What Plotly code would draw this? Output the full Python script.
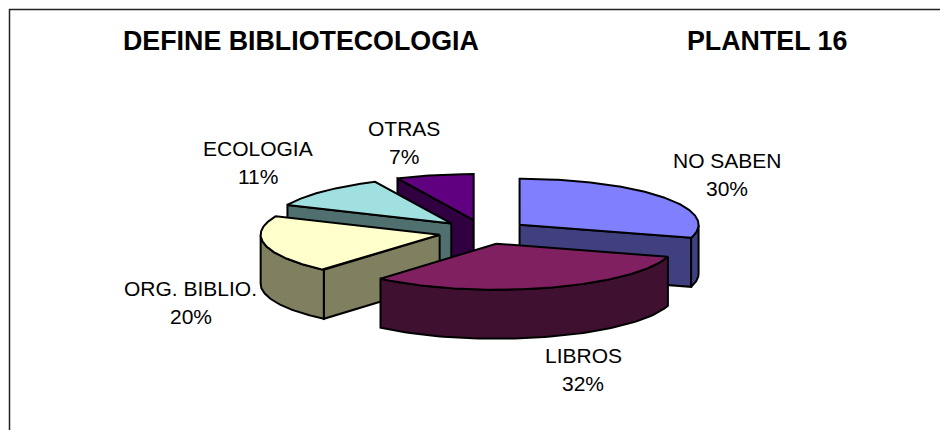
import numpy as np
import plotly.graph_objects as go

categories = ["NO SABEN", "LIBROS", "ORG. BIBLIO.", "ECOLOGIA", "OTRAS"]
values = [29.6, 31.6, 20.4, 11.4, 7]
pct_labels = ["30%", "32%", "20%", "11%", "7%"]
top_colors = ["#8080FF", "#802060", "#FFFFCC", "#A0E0E0", "#600080"]
side_colors = ["#404080", "#401030", "#808060", "#507070", "#300040"]
label_xy = [(727, 160), (583, 355), (190.5, 288), (258, 148), (404, 128)]
draw_order = [4, 3, 0, 2, 1]

CX, CY, A, B, DEPTH, EXPLODE_X, EXPLODE_Y = 483.5, 232, 179, 46, 49, 45, 12.2

total = sum(values)
edges = np.concatenate([[0], np.cumsum(values)]) / total * 2 * np.pi


def rim(ax, ay, t):
    return ax + A * np.sin(t), ay - B * np.cos(t)


def poly(fig, xs, ys, color):
    fig.add_trace(go.Scatter(x=list(xs), y=list(ys), mode="lines", fill="toself", fillcolor=color,
                             line=dict(color="black", width=2, shape="linear"),
                             hoverinfo="skip", showlegend=False))


fig = go.Figure()
for i in draw_order:
    t0, t1 = edges[i], edges[i + 1]
    mid = (t0 + t1) / 2
    ax, ay = CX + EXPLODE_X * np.sin(mid), CY - EXPLODE_Y * np.cos(mid)
    # radial walls that face the viewer
    if np.sin(t0) < -1e-9:
        x, y = rim(ax, ay, t0)
        poly(fig, [ax, x, x, ax, ax], [ay, y, y + DEPTH, ay + DEPTH, ay], side_colors[i])
    if np.sin(t1) > 1e-9:
        x, y = rim(ax, ay, t1)
        poly(fig, [ax, x, x, ax, ax], [ay, y, y + DEPTH, ay + DEPTH, ay], side_colors[i])
    # outer curved wall, front half only
    lo, hi = max(t0, np.pi / 2), min(t1, 3 * np.pi / 2)
    if hi > lo:
        ts = np.linspace(lo, hi, 60)
        x, y = rim(ax, ay, ts)
        poly(fig, np.r_[x, x[::-1], x[0]], np.r_[y, y[::-1] + DEPTH, y[0]], side_colors[i])
    # top face
    ts = np.linspace(t0, t1, 120)
    x, y = rim(ax, ay, ts)
    poly(fig, np.r_[ax, x, ax], np.r_[ay, y, ay], top_colors[i])

annotations = [
    dict(x=300.5, y=41, text="<b>DEFINE BIBLIOTECOLOGIA</b>", font=dict(size=26.8)),
    dict(x=767, y=41, text="<b>PLANTEL 16</b>", font=dict(size=26.8)),
]
for name, pct, (lx, ly) in zip(categories, pct_labels, label_xy):
    annotations.append(dict(x=lx, y=ly, text=name, font=dict(size=21)))
    annotations.append(dict(x=lx, y=ly + 28, text=pct, font=dict(size=21)))
for a in annotations:
    a.update(xref="x", yref="y", showarrow=False, xanchor="center", yanchor="middle")
    a["font"].update(family="Liberation Sans", color="black")

fig.update_layout(
    width=940, height=422, margin=dict(l=0, r=0, t=0, b=0),
    paper_bgcolor="white", plot_bgcolor="white", showlegend=False,
    xaxis=dict(range=[8, 948], visible=False, fixedrange=True),
    yaxis=dict(range=[430, 8], visible=False, fixedrange=True),
    annotations=annotations,
    shapes=[dict(type="rect", xref="x", yref="y", x0=9.5, y0=9.5, x1=1000, y1=500,
                 line=dict(color="#222222", width=1.5), layer="below")],
)
fig.write_html("out.html", config={"displayModeBar": False})
